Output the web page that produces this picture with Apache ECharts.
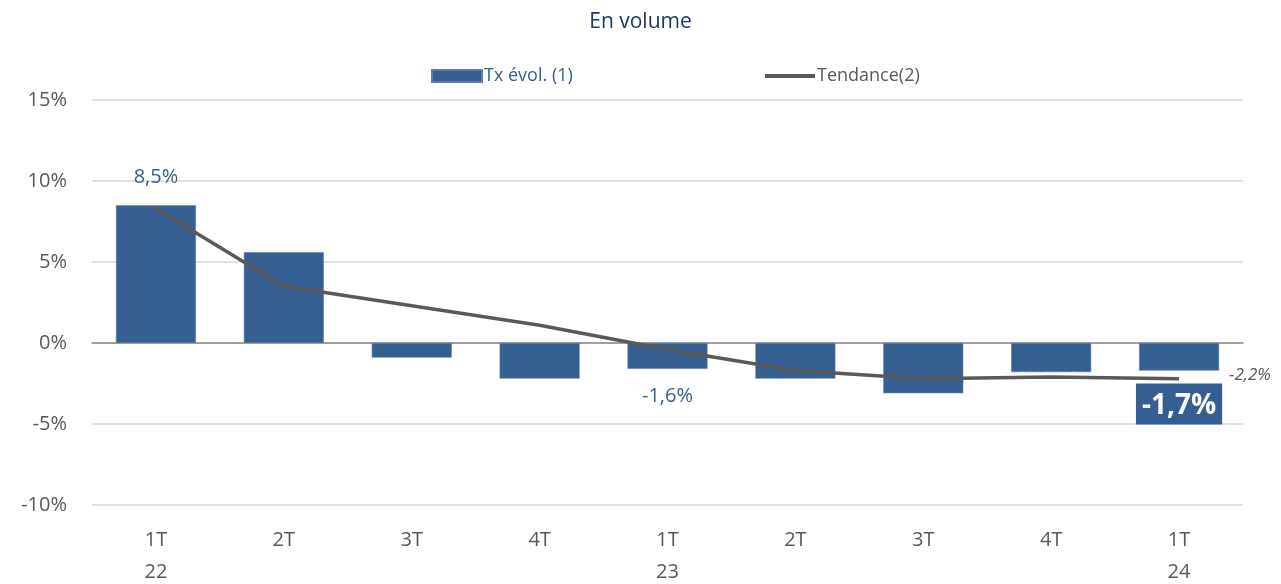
<!DOCTYPE html>
<html>
<head>
<meta charset="utf-8">
<script src="https://cdn.jsdelivr.net/npm/echarts@6/dist/echarts.min.js"></script>
<style>
  html, body { margin: 0; padding: 0; background: #ffffff; }
  #chart { width: 1281px; height: 584px; }
</style>
</head>
<body>
<div id="chart"></div>
<script>
// Quarterly categories (quarter + year)
const quarters = ['1T\n22', '2T', '3T', '4T', '1T\n23', '2T', '3T', '4T', '1T\n24'];
// Growth rate per quarter, in %
const txEvol = [8.5, 5.6, -0.9, -2.2, -1.6, -2.2, -3.1, -1.8, -1.7];
// Trend line, in %
const tendance = [8.3, 3.5, 2.3, 1.1, -0.4, -1.7, -2.2, -2.1, -2.2];
// Bars whose value is written next to them
const labelledBars = [0, 4];
const highlightedBar = 8;

const FONT = "'Open Sans', 'Noto Sans', sans-serif";
const BLUE = '#365F91';
const GREY = '#595959';

const fmt = v => (v < 0 ? '-' : '') + Math.abs(v).toFixed(1).replace('.', ',') + '%';

const barData = txEvol.map((v, i) => {
  const item = { value: v };
  if (labelledBars.includes(i)) {
    item.label = {
      show: true,
      position: v >= 0 ? 'top' : 'bottom',
      distance: v >= 0 ? 18 : 17,
      color: BLUE,
      fontSize: 20,
      fontFamily: FONT,
      formatter: p => fmt(p.value)
    };
  } else if (i === highlightedBar) {
    item.label = {
      show: true,
      position: 'bottom',
      distance: 13,
      color: '#ffffff',
      fontSize: 28,
      fontWeight: 'bold',
      fontFamily: FONT,
      backgroundColor: BLUE,
      padding: [8, 6, 5, 6],
      formatter: p => fmt(p.value)
    };
  }
  return item;
});

const lineData = tendance.map((v, i) => {
  const item = { value: v };
  if (i === tendance.length - 1) {
    item.label = {
      show: true,
      position: 'right',
      distance: 50,
      offset: [0, -3],
      color: GREY,
      fontSize: 17,
      fontStyle: 'italic',
      fontFamily: FONT,
      formatter: p => fmt(p.value)
    };
  }
  return item;
});

const chart = echarts.init(document.getElementById('chart'), null, { renderer: 'canvas' });
chart.setOption({
  animation: false,
  backgroundColor: '#ffffff',
  title: {
    text: 'En volume',
    left: 'center',
    top: 7,
    textStyle: { color: '#1F3864', fontSize: 21, fontWeight: 'normal', fontFamily: FONT }
  },
  legend: [
    {
      data: [{ name: 'Tx évol. (1)', icon: 'rect' }],
      left: 426,
      top: 62,
      itemWidth: 50,
      itemHeight: 12,
      itemGap: 5,
      textStyle: { color: BLUE, fontSize: 18, fontFamily: FONT, padding: [0, 0, 0, -3] }
    },
    {
      data: [{ name: 'Tendance(2)', icon: 'rect' }],
      left: 760,
      top: 62,
      itemWidth: 50,
      itemHeight: 4,
      textStyle: { color: GREY, fontSize: 18, fontFamily: FONT, padding: [0, 0, 0, -3] }
    }
  ],
  grid: { left: 92, right: 38, top: 100, bottom: 79, containLabel: false, outerBoundsMode: 'none' },
  xAxis: [
    {
      type: 'category',
      data: quarters,
      axisLine: { show: false, onZero: false },
      axisTick: { show: false },
      axisLabel: {
        color: GREY,
        fontSize: 20,
        fontFamily: FONT,
        margin: 19,
        lineHeight: 32
      }
    },
    {
      type: 'category',
      data: quarters,
      position: 'bottom',
      axisLine: { show: true, onZero: true, lineStyle: { color: '#8c8c8c', width: 1.5 } },
      axisTick: { show: false },
      axisLabel: { show: false }
    }
  ],
  yAxis: {
    type: 'value',
    min: -10,
    max: 15,
    interval: 5,
    axisLine: { show: false },
    axisTick: { show: false },
    axisLabel: {
      color: GREY,
      fontSize: 20,
      fontFamily: FONT,
      margin: 25,
      formatter: v => v + '%'
    },
    splitLine: { lineStyle: { color: '#d9d9d9', width: 1.5 } }
  },
  series: [
    {
      name: 'Tx évol. (1)',
      type: 'bar',
      data: barData,
      barWidth: 80,
      itemStyle: { color: BLUE, borderColor: '#5a7fae', borderWidth: 0.6 },
      z: 2
    },
    {
      name: 'Tendance(2)',
      type: 'line',
      data: lineData,
      symbol: 'circle',
      symbolSize: 0.01,
      showSymbol: true,
      lineStyle: { color: GREY, width: 3.5 },
      itemStyle: { color: GREY },
      z: 3
    }
  ]
});
</script>
</body>
</html>
